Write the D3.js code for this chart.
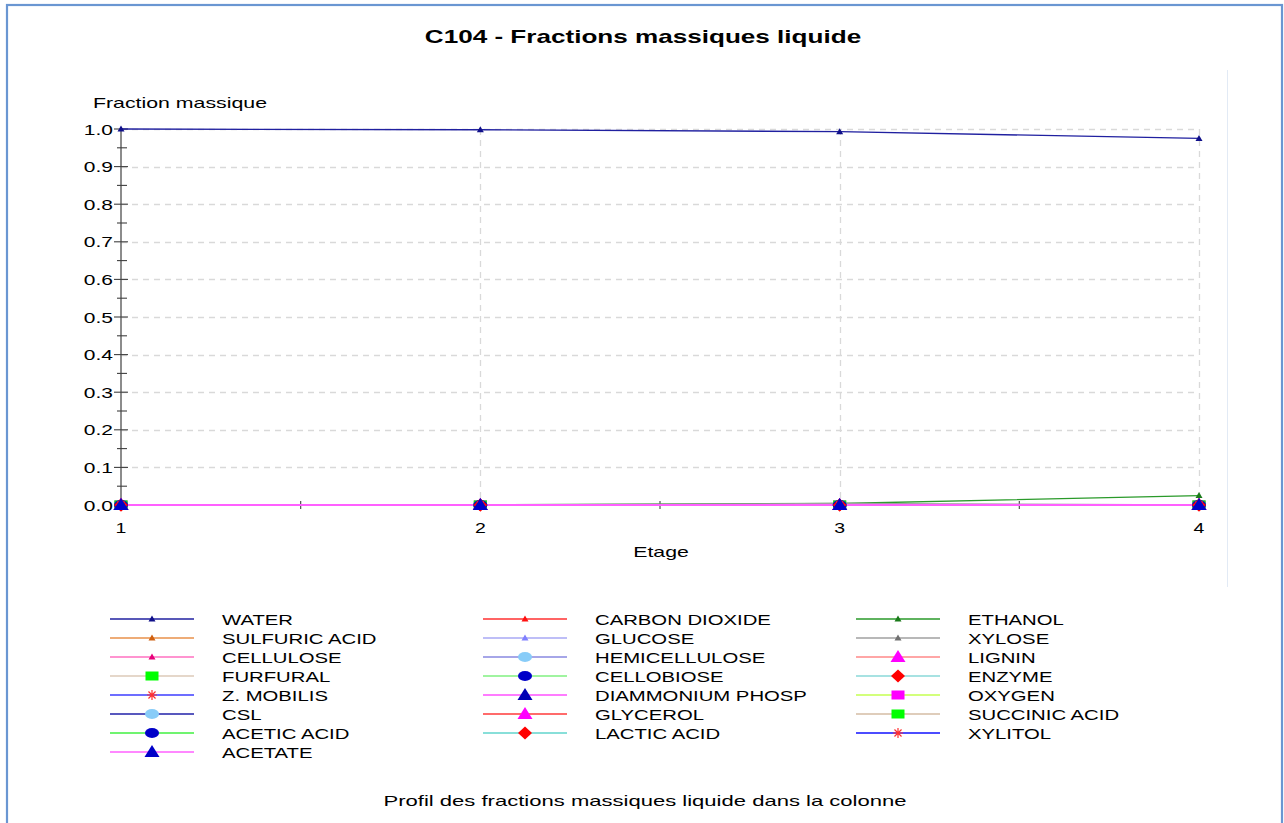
<!DOCTYPE html>
<html>
<head>
<meta charset="utf-8">
<script src="https://cdn.jsdelivr.net/npm/d3@7"></script>
<style>
  html, body { margin: 0; padding: 0; background: #ffffff; }
  svg { display: block; }
  text { font-family: "Liberation Sans", Arial, sans-serif; fill: #000; }
</style>
</head>
<body>
<svg id="chart" width="1284" height="823"></svg>
<script>
// ---- Data -----------------------------------------------------------------
const chartTitle = "C104 - Fractions massiques liquide";
const yAxisTitle = "Fraction massique";
const xAxisTitle = "Etage";
const footerText = "Profil des fractions massiques liquide dans la colonne";

const stages = [1, 2, 3, 4];
const yTicks = [0, 0.1, 0.2, 0.3, 0.4, 0.5, 0.6, 0.7, 0.8, 0.9, 1.0];
const yMinorTicks = [0.05, 0.15, 0.25, 0.35, 0.45, 0.55, 0.65, 0.75, 0.85, 0.95];
const xMinorTicks = [1.5, 2.5, 3.5];

const componentNames = [
  "WATER", "CARBON DIOXIDE", "ETHANOL",
  "SULFURIC ACID", "GLUCOSE", "XYLOSE",
  "CELLULOSE", "HEMICELLULOSE", "LIGNIN",
  "FURFURAL", "CELLOBIOSE", "ENZYME",
  "Z. MOBILIS", "DIAMMONIUM PHOSP", "OXYGEN",
  "CSL", "GLYCEROL", "SUCCINIC ACID",
  "ACETIC ACID", "LACTIC ACID", "XYLITOL",
  "ACETATE"
];

// mass fraction per stage (stages 1..4)
const water          = [1.000, 0.998, 0.993, 0.975];
const carbonDioxide  = [0, 0, 0, 0];
const ethanol        = [0, 0.001, 0.004, 0.025];
const sulfuricAcid   = [0, 0, 0, 0];
const glucose        = [0, 0, 0, 0];
const xylose         = [0, 0, 0.004, 0];
const cellulose      = [0, 0, 0, 0];
const hemicellulose  = [0, 0, 0, 0];
const lignin         = [0, 0, 0, 0];
const furfural       = [0, 0, 0, 0];
const cellobiose     = [0, 0, 0, 0];
const enzyme         = [0, 0, 0, 0];
const zMobilis       = [0, 0, 0, 0];
const diammonium     = [0, 0, 0, 0];
const oxygen         = [0, 0, 0, 0];
const csl            = [0, 0, 0, 0];
const glycerol       = [0, 0, 0, 0];
const succinicAcid   = [0, 0, 0, 0];
const aceticAcid     = [0, 0, 0, 0];
const lacticAcid     = [0, 0, 0, 0];
const xylitol        = [0, 0, 0, 0];
const acetate        = [0, 0, 0, 0];

const componentValues = [
  water, carbonDioxide, ethanol, sulfuricAcid, glucose, xylose,
  cellulose, hemicellulose, lignin, furfural, cellobiose, enzyme,
  zMobilis, diammonium, oxygen, csl, glycerol, succinicAcid,
  aceticAcid, lacticAcid, xylitol, acetate
];

// line colour, marker shape, marker colour
const lineColors = [
  "#2020a0", "#ff3030", "#2a9a2a",
  "#e8904a", "#a8a8f4", "#a0a0a0",
  "#ff70c0", "#8888e0", "#ff8888",
  "#dccab8", "#80f080", "#8ad8d8",
  "#3c3cff", "#ff50ff", "#c4ff50",
  "#2020a8", "#ff3a3a", "#d4bca4",
  "#40f040", "#60d4cc", "#1010ff",
  "#ff60ff"
];
const markerShapes = [
  "smallTri", "smallTri", "smallTri",
  "smallTri", "smallTri", "smallTri",
  "smallTri", "ellipse", "bigTri",
  "square", "ellipse", "diamond",
  "star", "bigTri", "square",
  "ellipse", "bigTri", "square",
  "ellipse", "diamond", "star",
  "bigTri"
];
const markerColors = [
  "#10108a", "#ff1010", "#1a7a1a",
  "#d06010", "#8080ff", "#707070",
  "#e8007a", "#88ccf8", "#ff00ff",
  "#00ff00", "#0000c8", "#ff0000",
  "#ff3030", "#0000b4", "#ff00ff",
  "#88ccf8", "#ff00ff", "#00ff00",
  "#0000c8", "#ff0000", "#ff3030",
  "#0000c8"
];

// ---- Layout ---------------------------------------------------------------
const SX = 1.33; // default horizontal glyph stretch for labels
const svg = d3.select("#chart");

const x = d3.scaleLinear().domain([1, 4]).range([121, 1199]);
const y = d3.scaleLinear().domain([0, 1]).range([505, 129]);

function label(parent, tx, ty, str, opts = {}) {
  const sx = opts.sx || SX;
  return parent.append("text")
    .attr("transform", `translate(${tx},${ty}) scale(${sx},1)`)
    .attr("text-anchor", opts.anchor || "start")
    .attr("font-size", opts.size || 15)
    .attr("font-weight", opts.weight || "normal")
    .attr("letter-spacing", opts.ls || 0)
    .text(str);
}

function drawMarker(g, shape, color, cx, cy) {
  if (shape === "smallTri") {
    g.append("path").attr("d", `M${cx},${cy - 3.5}L${cx + 3.5},${cy + 2.5}L${cx - 3.5},${cy + 2.5}Z`).attr("fill", color);
  } else if (shape === "bigTri") {
    g.append("path").attr("d", `M${cx},${cy - 7}L${cx + 7.5},${cy + 5}L${cx - 7.5},${cy + 5}Z`).attr("fill", color);
  } else if (shape === "ellipse") {
    g.append("ellipse").attr("cx", cx).attr("cy", cy).attr("rx", 7).attr("ry", 5).attr("fill", color);
  } else if (shape === "square") {
    g.append("rect").attr("x", cx - 6.5).attr("y", cy - 4.5).attr("width", 13).attr("height", 9).attr("fill", color);
  } else if (shape === "diamond") {
    g.append("path").attr("d", `M${cx},${cy - 6.5}L${cx + 7},${cy}L${cx},${cy + 6.5}L${cx - 7},${cy}Z`).attr("fill", color);
  } else if (shape === "star") {
    const r = 5;
    const d = [0, 45, 90, 135].map(a => {
      const rad = a * Math.PI / 180;
      const dx = r * Math.cos(rad), dy = r * Math.sin(rad);
      return `M${cx - dx},${cy - dy}L${cx + dx},${cy + dy}`;
    }).join("");
    g.append("path").attr("d", d).attr("stroke", color).attr("stroke-width", 1.2).attr("fill", "none");
  }
}

// ---- Frame ----------------------------------------------------------------
svg.append("rect")
  .attr("x", 7).attr("y", 5).attr("width", 1275).attr("height", 840)
  .attr("fill", "#ffffff").attr("stroke", "#6a96d2").attr("stroke-width", 2.2);
svg.append("line")
  .attr("x1", 1227.5).attr("x2", 1227.5).attr("y1", 70).attr("y2", 587)
  .attr("stroke", "#e2eaf5").attr("stroke-width", 1);

// ---- Titles ---------------------------------------------------------------
label(svg, 643, 43, chartTitle, { anchor: "middle", size: 18, weight: "bold", sx: 1.45 });
label(svg, 93, 108, yAxisTitle, { size: 14.5, sx: 1.47 });
label(svg, 661, 557, xAxisTitle, { anchor: "middle", size: 15, sx: 1.42 });
label(svg, 645, 806, footerText, { anchor: "middle", size: 15, sx: 1.47 });

// ---- Grid -----------------------------------------------------------------
const grid = svg.append("g").attr("stroke", "#d9d9d9").attr("stroke-width", 1.3)
  .attr("stroke-dasharray", "6,5");
grid.selectAll("line.h").data(yTicks.filter(v => v > 0)).join("line")
  .attr("x1", x(1)).attr("x2", x(4))
  .attr("y1", d => Math.round(y(d)) + 0.5).attr("y2", d => Math.round(y(d)) + 0.5);
grid.selectAll("line.v").data(stages.filter(s => s > 1)).join("line")
  .attr("x1", d => Math.round(x(d)) + 0.5).attr("x2", d => Math.round(x(d)) + 0.5)
  .attr("y1", y(1)).attr("y2", y(0));

// ---- Axes -----------------------------------------------------------------
const axisG = svg.append("g");
// x axis baseline + minor ticks
axisG.append("line").attr("x1", x(1)).attr("x2", x(4)).attr("y1", y(0)).attr("y2", y(0))
  .attr("stroke", "#909090").attr("stroke-width", 1.5);
axisG.selectAll("line.xm").data(xMinorTicks).join("line")
  .attr("x1", d => x(d)).attr("x2", d => x(d)).attr("y1", y(0) - 4).attr("y2", y(0) + 4)
  .attr("stroke", "#505050").attr("stroke-width", 1.2);
// y axis line + ticks
axisG.append("line").attr("x1", x(1)).attr("x2", x(1)).attr("y1", y(1) - 1).attr("y2", y(0))
  .attr("stroke", "#8c8c8c").attr("stroke-width", 2);
axisG.selectAll("line.ym").data(yTicks).join("line")
  .attr("x1", x(1) - 7).attr("x2", x(1) + 7).attr("y1", d => y(d)).attr("y2", d => y(d))
  .attr("stroke", "#404040").attr("stroke-width", 1.1);
axisG.selectAll("line.yn").data(yMinorTicks).join("line")
  .attr("x1", x(1) - 4).attr("x2", x(1) + 6).attr("y1", d => y(d)).attr("y2", d => y(d))
  .attr("stroke", "#404040").attr("stroke-width", 1.1);

const yFmt = d3.format(".1f");
yTicks.forEach(v => label(axisG, 113, y(v) + 5.5, yFmt(v), { anchor: "end", size: 15, sx: 1.4 }));
stages.forEach(s => label(axisG, x(s), 533, String(s), { anchor: "middle", size: 15, sx: 1.3 }));

// ---- Series ---------------------------------------------------------------
const lineGen = d3.line().x((d, i) => x(stages[i])).y(d => y(d));
const seriesG = svg.append("g");
componentNames.forEach((name, k) => {
  const vals = componentValues[k];
  seriesG.append("path").datum(vals)
    .attr("d", lineGen)
    .attr("fill", "none")
    .attr("stroke", lineColors[k])
    .attr("stroke-width", k === componentNames.length - 1 ? 1.8 : 1.3);
});
componentNames.forEach((name, k) => {
  const vals = componentValues[k];
  const mg = seriesG.append("g");
  vals.forEach((v, i) => drawMarker(mg, markerShapes[k], markerColors[k], x(stages[i]), y(v)));
});

// ---- Legend ---------------------------------------------------------------
const legendCols = [110, 483, 856];
const legend = svg.append("g");
componentNames.forEach((name, k) => {
  const col = k % 3, row = Math.floor(k / 3);
  const lx = legendCols[col], ly = 619 + row * 19;
  legend.append("line").attr("x1", lx).attr("x2", lx + 84).attr("y1", ly).attr("y2", ly)
    .attr("stroke", lineColors[k]).attr("stroke-width", 1.4);
  drawMarker(legend, markerShapes[k], markerColors[k], lx + 42, ly);
  label(legend, lx + 112, ly + 6, name, { size: 15.5, sx: 1.31 });
});
</script>
</body>
</html>
